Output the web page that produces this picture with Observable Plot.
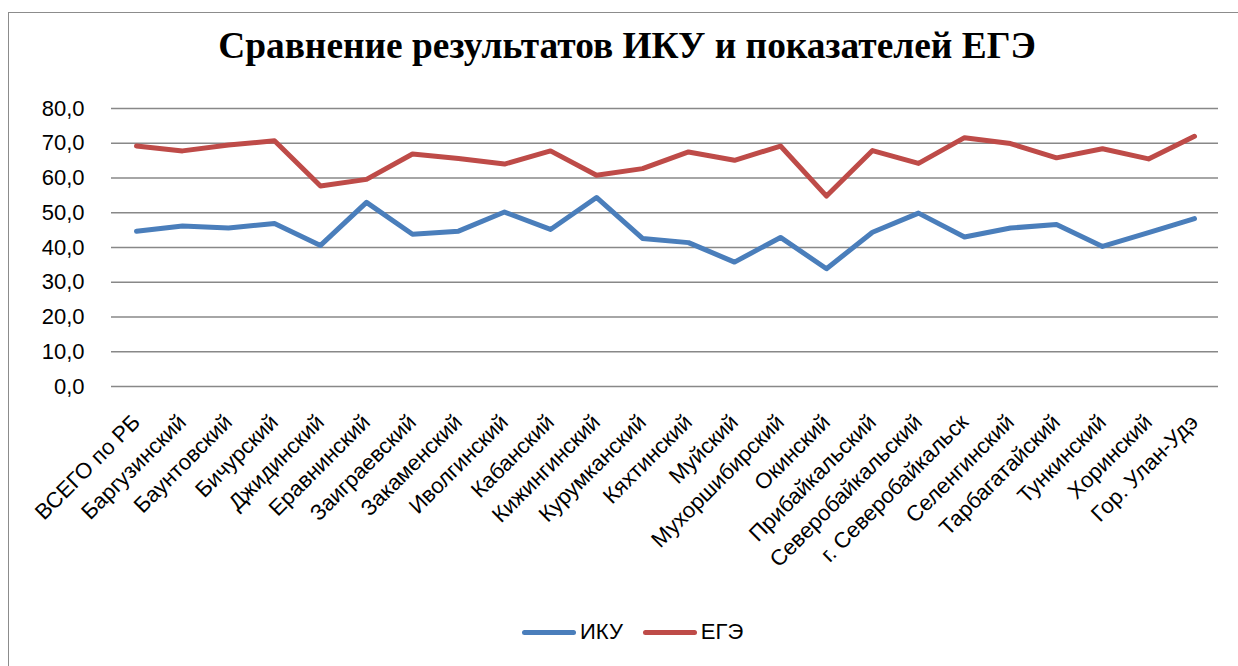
<!DOCTYPE html>
<html>
<head>
<meta charset="utf-8">
<script src="https://cdn.jsdelivr.net/npm/d3@7"></script>
<script src="https://cdn.jsdelivr.net/npm/@observablehq/plot@0.6"></script>
<style>
  html, body { margin: 0; padding: 0; background: #fff; }
  body { width: 1238px; height: 666px; overflow: hidden; position: relative; font-family: "Liberation Sans", Arial, sans-serif; }
  #frame { position: absolute; left: 8px; top: 12px; width: 1300px; height: 720px; border: 1.5px solid #8c8c8c; box-sizing: border-box; }
  #title { position: absolute; left: 16px; width: 1222px; top: 27px; text-align: center; font: bold 37.4px/37.4px "Liberation Serif", "Times New Roman", serif; color: #000; white-space: nowrap; }
  #chart { position: absolute; left: 0; top: 90px; }
  #legend { position: absolute; top: 619px; left: 522px; height: 26px; display: flex; align-items: center; font-size: 22px; color: #000; white-space: nowrap; }
  .sw { display: inline-block; width: 54px; height: 5px; border-radius: 3px; margin-right: 4px; }
  .item { display: inline-flex; align-items: center; }
</style>
</head>
<body>
<div id="frame"></div>
<div id="title">Сравнение результатов ИКУ и показателей ЕГЭ</div>
<div id="chart"></div>
<div id="legend"></div>
<script>
const categories = [
  "ВСЕГО по РБ", "Баргузинский", "Баунтовский", "Бичурский", "Джидинский", "Еравнинский",
  "Заиграевский", "Закаменский", "Иволгинский", "Кабанский", "Кижингинский", "Курумканский",
  "Кяхтинский", "Муйский", "Мухоршибирский", "Окинский", "Прибайкальский", "Северобайкальский",
  "г. Северобайкальск", "Селенгинский", "Тарбагатайский", "Тункинский", "Хоринский", "Гор. Улан-Удэ"
];
const ikuValues = [44.7, 46.2, 45.6, 46.9, 40.6, 53.0, 43.8, 44.7, 50.2, 45.2, 54.4, 42.6,
                   41.4, 35.8, 42.9, 33.9, 44.4, 49.9, 43.0, 45.6, 46.6, 40.3, 44.3, 48.3];
const egeValues = [69.2, 67.8, 69.5, 70.7, 57.7, 59.6, 66.9, 65.6, 64.0, 67.8, 60.8, 62.7,
                   67.5, 65.1, 69.2, 54.8, 67.9, 64.2, 71.6, 69.9, 65.8, 68.4, 65.5, 72.0];
const seriesNames = ["ИКУ", "ЕГЭ"];
const seriesColors = ["#4A7EBB", "#BE4B48"];
const yTicks = [0, 10, 20, 30, 40, 50, 60, 70, 80];

const rows = [];
categories.forEach((c, i) => {
  rows.push({cat: c, series: seriesNames[0], value: ikuValues[i]});
  rows.push({cat: c, series: seriesNames[1], value: egeValues[i]});
});

const fmt = d => d.toFixed(1).replace(".", ",");

const chart = Plot.plot({
  width: 1238,
  height: 510,
  marginLeft: 111,
  marginRight: 20,
  marginTop: 18,
  marginBottom: 214,
  style: { fontSize: "22px", fontFamily: "'Liberation Sans', Arial, sans-serif", color: "#000", background: "transparent" },
  x: { type: "point", domain: categories, padding: 0.5, axis: null },
  y: { domain: [0, 80], axis: null },
  color: { domain: seriesNames, range: seriesColors },
  marks: [
    Plot.ruleY(yTicks, { stroke: "#888888", strokeWidth: 1.6 }),
    Plot.text(yTicks, { y: d => d, frameAnchor: "left", text: fmt, textAnchor: "end", dx: -27, fontSize: 22, fill: "#000" }),
    Plot.text(categories, { x: d => d, frameAnchor: "bottom", text: d => d, rotate: -45, textAnchor: "end", lineAnchor: "middle", dy: 32, dx: 0, fontSize: 22, fill: "#000" }),
    Plot.line(rows, { x: "cat", y: "value", z: "series", stroke: "series", strokeWidth: 5, strokeLinejoin: "round", strokeLinecap: "round" })
  ]
});
document.getElementById("chart").appendChild(chart);

const legend = document.getElementById("legend");
seriesNames.forEach((n, i) => {
  const item = document.createElement("span");
  item.className = "item";
  if (i > 0) item.style.marginLeft = "20px";
  const sw = document.createElement("span");
  sw.className = "sw";
  sw.style.background = seriesColors[i];
  const t = document.createElement("span");
  t.textContent = n;
  item.appendChild(sw);
  item.appendChild(t);
  legend.appendChild(item);
});
</script>
</body>
</html>
